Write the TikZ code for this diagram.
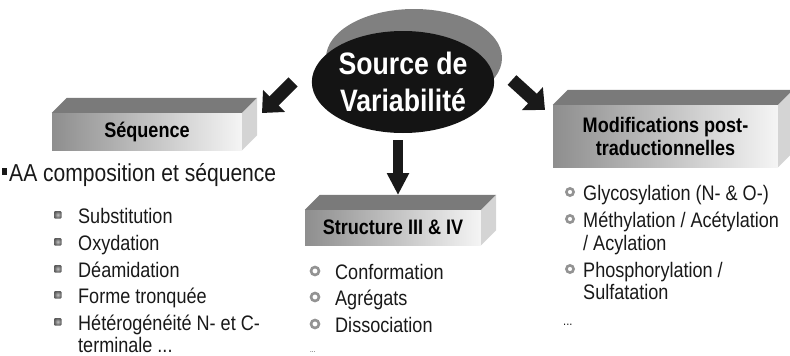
\documentclass[tikz,border=0pt]{standalone}
\usepackage{fontspec}
\setmainfont{Liberation Sans}[FakeStretch=0.86]
\usetikzlibrary{shapes.geometric,arrows.meta}
\definecolor{topgray}{HTML}{7A7A7A}
\definecolor{sidegray}{HTML}{D4D4D4}
\definecolor{frontgray}{HTML}{8E8E8E}
\definecolor{backgray}{HTML}{808080}
\tikzset{
	facebox/.style={rectangle, left color=frontgray, right color=black!4, inner sep=0pt, align=center, font=\fontsize{21}{23}\selectfont\bfseries},
	bigarrow/.style={draw=black!90, line width=13pt, -{Triangle[width=30pt,length=17pt]}},
	item/.style={anchor=base west, inner sep=0pt, text=black!90, font=\fontsize{21}{23}\selectfont},
	sqbullet/.style={inner color=gray!50, outer color=black!65, rounded corners=1pt},
	ringbullet/.style={draw=gray!85, line width=2.6pt},
}
% top and right faces of a box, behind its front node
\newcommand{\boxdepth}[1]{
	\fill[topgray] (#1.north west) -- ++(15,-15) -- ([shift={(15,-15)}]#1.north east) -- (#1.north east) -- cycle;
	\fill[sidegray] (#1.north east) -- ++(15,-15) -- ([shift={(15,-15)}]#1.south east) -- (#1.south east) -- cycle;
}
\begin{document}
\begin{tikzpicture}[x=1pt, y=-1pt]
	\useasboundingbox (0,0) rectangle (790,356);
	% centre
	\fill[backgray] (414,58) ellipse [x radius=88pt, y radius=49pt];
	\node[ellipse, fill=black!92, minimum width=180pt, minimum height=102pt, inner sep=0pt, text=white, align=center, font=\fontsize{31}{37}\selectfont\bfseries] (src) at (403,82) {Source de\\Variabilité};

	% boxes
	\node[facebox, minimum width=190pt, minimum height=37pt] (seq) at (147,131.5) {Séquence};
	\boxdepth{seq}
	\node[facebox, minimum width=176pt, minimum height=35pt] (struct) at (393,227.5) {Structure III \& IV};
	\boxdepth{struct}
	\node[facebox, minimum width=225pt, minimum height=62pt] (modif) at (665.5,136) {Modifications post-\\traductionnelles};
	\boxdepth{modif}

	% arrows
	\coordinate (tailL) at (293,82);
	\coordinate (tipL) at (262,113);
	\coordinate (tailR) at (512,80);
	\coordinate (tipR) at (545,110);
	\coordinate (tailD) at (398,140);
	\coordinate (tipD) at (398,195);
	\draw[bigarrow] (tailL) -- (tipL);
	\draw[bigarrow] (tailR) -- (tipR);
	\draw[bigarrow, line width=10pt, -{Triangle[width=21pt,length=22pt]}] (tailD) -- (tipD);

	% left list
	\fill[black!90] (2,168) rectangle (7,175);
	\node[item, font=\fontsize{24.5}{25}\selectfont] (aa) at (9,181) {AA composition et séquence};
	\foreach \txt/\y in {Substitution/223, Oxydation/250, Déamidation/277, Forme tronquée/303, Hétérogénéité N- et C-/330} {
		\shade[sqbullet] (54,\y-12) rectangle (61.5,\y-4.5);
		\node[item] (seq\y) at (78,\y) {\txt};
	}
	\node[item] (seq352) at (78,352) {terminale ...};

	% middle list
	\foreach \txt/\y in {Conformation/279, Agrégats/305, Dissociation/332} {
		\draw[ringbullet] (315,\y-8) circle (4pt);
		\node[item] (struct\y) at (335,\y) {\txt};
	}
	\node[item, font=\fontsize{7}{8}\selectfont] (struct352) at (310,352) {...};

	% right list
	\foreach \y in {192, 219, 269} {
		\draw[ringbullet] (570,\y) circle (3.6pt);
	}
	\node[item] (modif200) at (583,200) {Glycosylation (N- \& O-)};
	\node[item] (modif227) at (583,227) {Méthylation / Acétylation};
	\node[item] (modif250) at (583,250) {/ Acylation};
	\node[item] (modif277) at (583,277) {Phosphorylation /};
	\node[item] (modif299) at (583,299) {Sulfatation};
	\node[item, font=\fontsize{13}{14}\selectfont] (modif325) at (563,325) {...};
\end{tikzpicture}
\end{document}
